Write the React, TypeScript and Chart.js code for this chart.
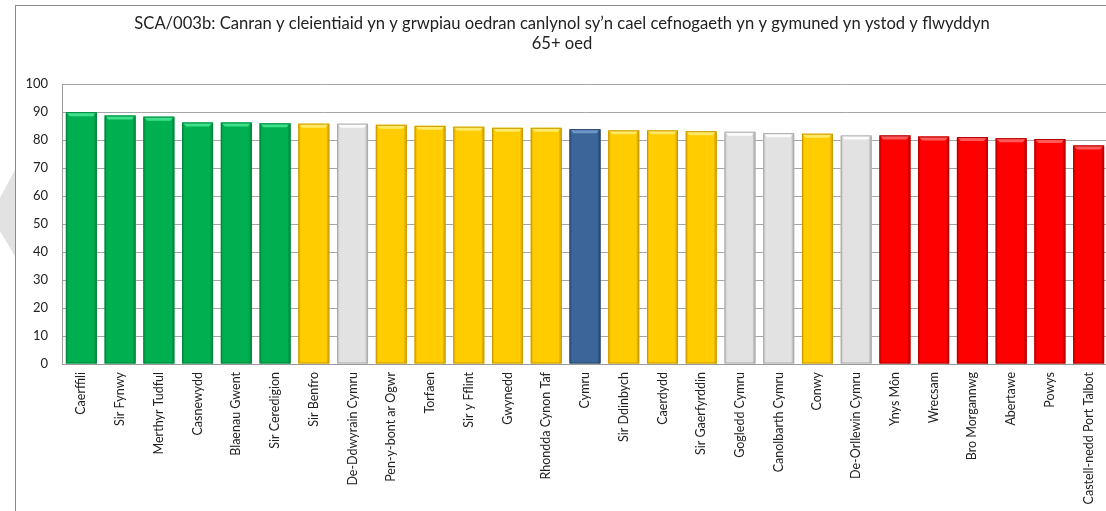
import React, { useEffect, useRef } from 'react';
import { Chart, registerables } from 'chart.js';

Chart.register(...registerables);

const titleLines = [
  'SCA/003b: Canran y cleientiaid yn y grwpiau oedran canlynol sy’n cael cefnogaeth yn y gymuned yn ystod y flwyddyn',
  '65+ oed',
];

const categories = [
  'Caerffili', 'Sir Fynwy', 'Merthyr Tudful', 'Casnewydd', 'Blaenau Gwent', 'Sir Ceredigion',
  'Sir Benfro', 'De-Ddwyrain Cymru', 'Pen-y-bont ar Ogwr', 'Torfaen', 'Sir y Fflint', 'Gwynedd',
  'Rhondda Cynon Taf', 'Cymru', 'Sir Ddinbych', 'Caerdydd', 'Sir Gaerfyrddin', 'Gogledd Cymru',
  'Canolbarth Cymru', 'Conwy', 'De-Orllewin Cymru', 'Ynys Môn', 'Wrecsam', 'Bro Morgannwg',
  'Abertawe', 'Powys', 'Castell-nedd Port Talbot',
];

const values = [
  90.0, 88.8, 88.4, 86.3, 86.3, 86.0,
  85.9, 85.9, 85.5, 85.1, 84.8, 84.4,
  84.4, 83.9, 83.5, 83.5, 83.2, 83.0,
  82.5, 82.3, 81.7, 81.7, 81.3, 81.1,
  80.7, 80.4, 78.1,
];

// rating group of each bar: G = green, Y = amber, R = red, W = region, C = Wales
const ratings = [
  'G', 'G', 'G', 'G', 'G', 'G',
  'Y', 'W', 'Y', 'Y', 'Y', 'Y',
  'Y', 'C', 'Y', 'Y', 'Y', 'W',
  'W', 'Y', 'W', 'R', 'R', 'R',
  'R', 'R', 'R',
];

const yMin = 0;
const yMax = 100;
const yStep = 10;

const palette: Record<string, { base: string; light: string; dark: string }> = {
  G: { base: '#00B050', light: '#3FE08C', dark: '#00853C' },
  Y: { base: '#FFCC00', light: '#FFE866', dark: '#C99A00' },
  W: { base: '#E2E2E2', light: '#FBFBFB', dark: '#A9A9A9' },
  C: { base: '#3C6699', light: '#6F97C8', dark: '#26456B' },
  R: { base: '#FF0000', light: '#FF5A5A', dark: '#B30000' },
};

const bevelPlugin = {
  id: 'bevel',
  afterDatasetsDraw(chart: any) {
    const ctx = chart.ctx;
    const meta = chart.getDatasetMeta(0);
    meta.data.forEach((el: any, i: number) => {
      const p = palette[ratings[i]];
      const w = el.width;
      const left = el.x - w / 2;
      const right = el.x + w / 2;
      const top = el.y;
      const bottom = el.base;
      const b = 4;
      ctx.save();
      ctx.fillStyle = p.light;
      ctx.beginPath();
      ctx.moveTo(left, top);
      ctx.lineTo(right, top);
      ctx.lineTo(right - b, top + b);
      ctx.lineTo(left + b, top + b);
      ctx.closePath();
      ctx.fill();
      ctx.fillStyle = p.dark;
      ctx.globalAlpha = 0.55;
      ctx.fillRect(right - 2.5, top + 1, 2.5, bottom - top - 1);
      ctx.globalAlpha = 0.35;
      ctx.fillRect(left, top + 1, 2, bottom - top - 1);
      ctx.globalAlpha = 1;
      ctx.strokeStyle = p.dark;
      ctx.lineWidth = 1;
      ctx.strokeRect(left + 0.5, top + 0.5, w - 1, bottom - top - 1);
      ctx.restore();
    });
  },
};

export default function App() {
  const ref = useRef<HTMLCanvasElement | null>(null);

  useEffect(() => {
    if (!ref.current) return;
    const chart = new Chart(ref.current, {
      type: 'bar',
      data: {
        labels: categories,
        datasets: [
          {
            data: values,
            backgroundColor: ratings.map((r) => palette[r].base),
            borderWidth: 0,
            barPercentage: 0.8,
            categoryPercentage: 1,
          },
        ],
      },
      options: {
        animation: false,
        responsive: false,
        maintainAspectRatio: false,
        layout: { padding: { left: 0, right: 10, top: 0, bottom: 2 } },
        plugins: {
          legend: { display: false },
          tooltip: { enabled: false },
          title: {
            display: true,
            text: titleLines,
            color: '#222222',
            font: { family: 'Lato', size: 16.6, weight: 'normal', lineHeight: 1.21 },
            padding: { top: 8, bottom: 30 },
          },
        },
        scales: {
          x: {
            grid: { display: false, drawTicks: false },
            border: { display: true, color: '#9A9A9A', width: 1 },
            afterFit: (scale: any) => {
              scale.height = 140;
            },
            ticks: {
              autoSkip: false,
              minRotation: 90,
              maxRotation: 90,
              padding: 8,
              color: '#222222',
              font: { family: 'Lato', size: 12.5 },
            },
          },
          y: {
            min: yMin,
            max: yMax,
            afterFit: (scale: any) => {
              scale.width = 46;
            },
            grid: { color: '#A6A6A6', lineWidth: 1, drawTicks: false },
            border: { display: true, color: '#9A9A9A', width: 1 },
            ticks: {
              stepSize: yStep,
              padding: 14,
              color: '#222222',
              font: { family: 'Lato', size: 13 },
            },
          },
        },
      },
      plugins: [bevelPlugin],
    });
    return () => chart.destroy();
  }, []);

  return (
    <div
      style={{
        position: 'fixed',
        left: 0,
        top: 0,
        width: 1106,
        height: 511,
        overflow: 'hidden',
        background: '#ffffff',
      }}
    >
      <div
        style={{
          position: 'absolute',
          left: 0,
          top: 168,
          width: 16,
          height: 90,
          background: '#E2E2E2',
          clipPath: 'polygon(100% 0%, 0% 33%, 0% 70%, 100% 100%)',
        }}
      />
      <div
        style={{
          position: 'absolute',
          left: 15,
          top: 5,
          width: 1130,
          height: 540,
          border: '1px solid #8A8A8A',
          background: '#ffffff',
        }}
      >
        <canvas ref={ref} width={1102} height={500} style={{ display: 'block' }} />
      </div>
    </div>
  );
}
